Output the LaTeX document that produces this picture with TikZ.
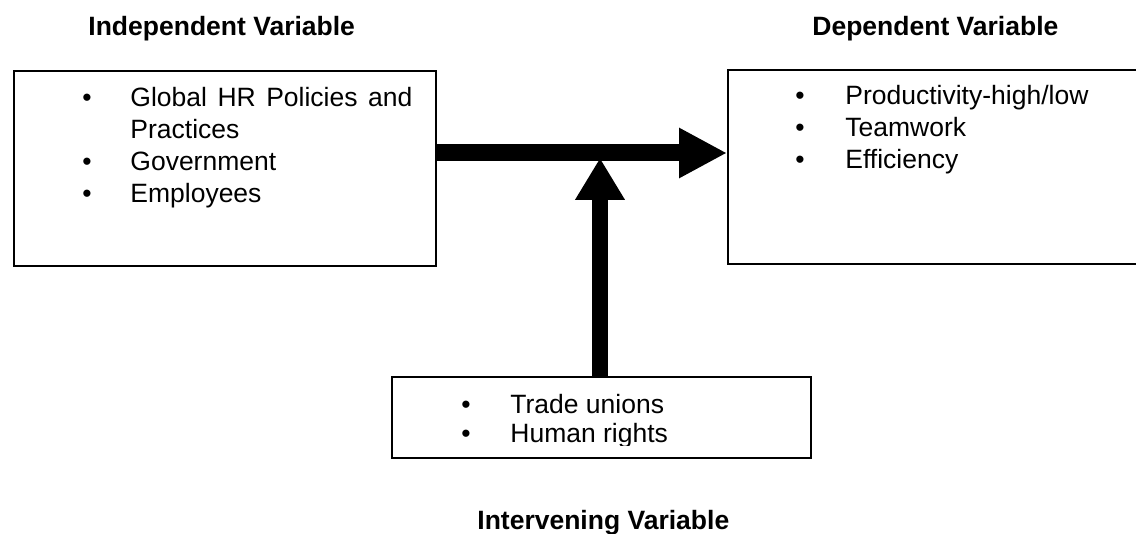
\documentclass[tikz,border=0pt]{standalone}
\usepackage{fontspec}
\setmainfont{Liberation Sans}
\usetikzlibrary{arrows.meta}
\begin{document}
\begin{tikzpicture}[x=0.5pt,y=-0.5pt,
  box/.style={draw, line width=1pt, inner sep=0pt, anchor=north west},
  txt/.style={anchor=base west, inner sep=0pt, font=\fontsize{13.25pt}{16pt}\selectfont},
  heading/.style={anchor=base west, inner sep=0pt, font=\fontsize{13.25pt}{16pt}\selectfont\bfseries},
  bul/.style={anchor=base, inner sep=0pt, font=\fontsize{13.25pt}{16pt}\selectfont},
  harrow/.style={line width=8.5pt, -{Triangle[length=24pt,width=23.5pt]}},
  varrow/.style={line width=8pt, -{Triangle[length=21pt,width=23.5pt]}},
]
\useasboundingbox (0,0) rectangle (1136,534);
\clip (0,0) rectangle (1136,534);

% boxes
\node[box, minimum width=211pt, minimum height=97.5pt] (iv) at (13,70) {};
\node[box, minimum width=212pt, minimum height=97pt] (dv) at (727,69) {};
\node[box, minimum width=209.5pt, minimum height=40.5pt] (mv) at (391,376) {};

% headings
\node[heading] (ivh) at (88,36) {Independent Variable};
\node[heading] (dvh) at (812,36) {Dependent Variable};
\node[heading] (mvh) at (477,529) {Intervening Variable};

% left box
\node[bul] (lb1) at (87,107) {\textbullet};
\node[txt] (lt1) at (130,107) {\hbox to 141pt{Global\hfill HR\hfill Policies\hfill and}};
\node[txt] (lt1b) at (130,139) {Practices};
\node[bul] (lb2) at (87,171) {\textbullet};
\node[txt] (lt2) at (130,171) {Government};
\node[bul] (lb3) at (87,203) {\textbullet};
\node[txt] (lt3) at (130,203) {Employees};

% right box
\node[bul] (rb1) at (800,105) {\textbullet};
\node[txt] (rt1) at (845,105) {Productivity-high/low};
\node[bul] (rb2) at (800,137) {\textbullet};
\node[txt] (rt2) at (845,137) {Teamwork};
\node[bul] (rb3) at (800,169) {\textbullet};
\node[txt] (rt3) at (845,169) {Efficiency};

% bottom box (text clipped at its lower edge)
\begin{scope}
\clip (391,376) rectangle (810,445);
\node[bul] (mb1) at (466,414) {\textbullet};
\node[txt] (mt1) at (510,414) {Trade unions};
\node[bul] (mb2) at (466,443) {\textbullet};
\node[txt] (mt2) at (510,443) {Human rights};
\end{scope}

% arrows
\coordinate (hy) at (0,153);
\coordinate (vt) at (600,158);
\draw[harrow] (iv.east |- hy) -- (dv.west |- hy);
\draw[varrow] (mv.north -| vt) -- (vt);
\end{tikzpicture}
\end{document}
